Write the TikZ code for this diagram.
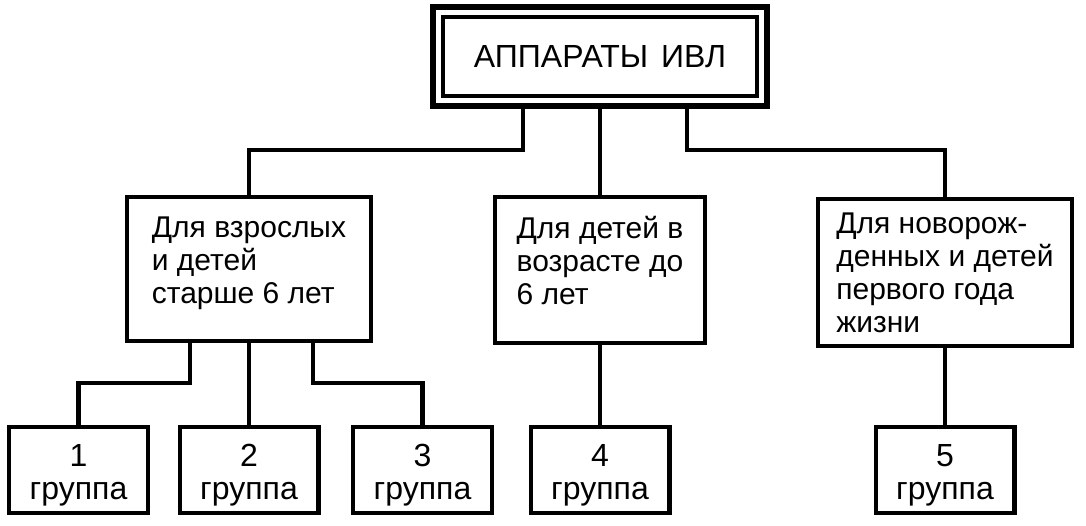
\documentclass[tikz,border=0pt]{standalone}
\usepackage{fontspec}
\setmainfont{Liberation Sans}

\begin{document}
\begin{tikzpicture}[x=0.5pt,y=-0.5pt,
  titlebox/.style={draw, line width=3.2pt, inner sep=0pt, minimum width=166.8pt, minimum height=49.3pt, font=\fontsize{16}{19}\selectfont},
  kindbox/.style={draw, line width=2.2pt, inner sep=0pt, align=left, font=\fontsize{15}{16.5}\selectfont},
  groupbox/.style={draw, line width=2.2pt, inner sep=0pt, align=center, minimum width=69.3pt, minimum height=42.8pt, font=\fontsize{16}{16.5}\selectfont},
  link/.style={line width=2.2pt}]

\useasboundingbox (0,0) rectangle (1086,525);

\node[titlebox] (top) at (600,56.5) {АППАРАТЫ\hspace{0.4em}ИВЛ};
\draw[line width=2.2pt] ([xshift=6.6pt,yshift=6.6pt]top.south west) rectangle ([xshift=-6.6pt,yshift=-6.6pt]top.north east);

\node[kindbox, minimum width=121.8pt, minimum height=71.8pt] (adults) at (249,269) {Для взрослых\\и детей\\старше 6 лет\rule[-9pt]{0pt}{9pt}};
\node[kindbox, minimum width=104.8pt, minimum height=72.8pt] (kids) at (600,270) {Для детей в\\возрасте до\\6 лет\rule[-9.5pt]{0pt}{9.5pt}};
\node[kindbox, minimum width=126.8pt, minimum height=73.3pt] (newborn) at (945,272.5) {Для новорож-\\денных и детей\\первого года\\жизни};

\node[groupbox] (g1) at (78.5,470) {\rule{0pt}{16pt}1\\группа};
\node[groupbox] (g2) at (249,470) {\rule{0pt}{16pt}2\\группа};
\node[groupbox] (g3) at (422.5,470) {\rule{0pt}{16pt}3\\группа};
\node[groupbox] (g4) at (600,470) {\rule{0pt}{16pt}4\\группа};
\node[groupbox] (g5) at (945,470) {\rule{0pt}{16pt}5\\группа};

\draw[link] ([xshift=-38.5pt]top.south) -- ++(0,41) -| (adults.north);
\draw[link] (top.south) -- (kids.north);
\draw[link] ([xshift=43.5pt]top.south) -- ++(0,41) -| (newborn.north);

\draw[link] ([xshift=-29.5pt]adults.south) -- ++(0,40) -| (g1.north);
\draw[link] (adults.south) -- (g2.north);
\draw[link] ([xshift=32pt]adults.south) -- ++(0,40) -| (g3.north);
\draw[link] (kids.south) -- (g4.north);
\draw[link] (newborn.south) -- (g5.north);

\end{tikzpicture}
\end{document}
